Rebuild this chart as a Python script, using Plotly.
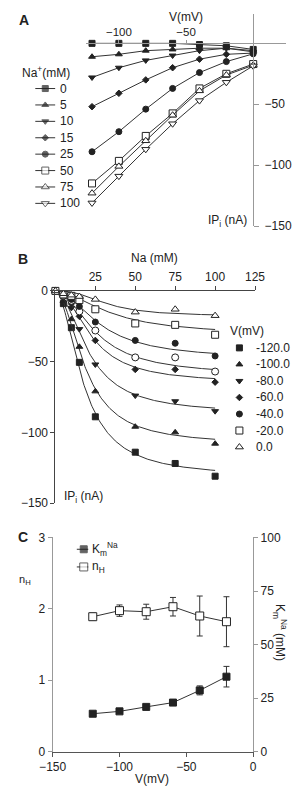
import numpy as np
import plotly.graph_objects as go

# ---------------- Panel A: pump current vs membrane voltage ----------------
voltages_a = [-120, -100, -80, -60, -40, -20, 0]
na_levels = ["0", "5", "10", "15", "25", "50", "75", "100"]
ip_na0 = [0, 0, 0, 0, -1, -2, -5]
ip_na5 = [-11, -9, -6, -5, -4, -4, -6]
ip_na10 = [-28, -20, -14, -10, -6, -4, -7]
ip_na15 = [-52, -41, -30, -20, -13, -9, -8]
ip_na25 = [-89, -72.5, -54, -37, -24, -15, -8.6]
ip_na50 = [-115, -96.5, -76, -57.5, -37, -25, -17]
ip_na75 = [-123, -101, -80, -59, -39, -26, -18]
ip_na100 = [-131, -109, -87, -66, -47, -32, -18.5]
series_a = [ip_na0, ip_na5, ip_na10, ip_na15, ip_na25, ip_na50, ip_na75, ip_na100]

# ---------------- Panel B: pump current vs external Na ----------------
na_b = [0, 5, 10, 15, 25, 50, 75, 100]
v_levels_b = ["-120.0", "-100.0", "-80.0", "-60.0", "-50.0", "-40.0", "-20.0", "0.0"]
legend_levels_b = ["-120.0", "-100.0", "-80.0", "-60.0", "-40.0", "-20.0", "0.0"]
ip_m120 = [0, -9, -26, -50.5, -89, -114, -122, -131]
ip_m100 = [0, -7, -20, -39.5, -71, -96, -100, -108]
ip_m80 = [0, -5, -12, -27, -52, -74, -78, -85]
ip_m60 = [0, -4, -9, -18, -35, -55.5, -55.5, -64.5]
ip_m50 = [0, -3.5, -7, -14.5, -28, -47, -47, -57]
ip_m40 = [0, -3, -6, -11, -22, -35, -37, -46]
ip_m20 = [0, -2.5, -3.5, -6.5, -13, -23, -24, -31]
ip_0 = [0, -2, -3, -4, -6, -15, -13, -17.5]
series_b = [ip_m120, ip_m100, ip_m80, ip_m60, ip_m50, ip_m40, ip_m20, ip_0]
# Hill fit parameters (Imax, K, n) for the fitted curves
fit_imax = [-131.7, -108.8, -86.7, -65.1, -59.9, -48.3, -31.3, -17.8]
fit_k = [17.7, 18.8, 20.9, 22.9, 26.0, 28.6, 35.0, 32.0]
fit_n = [1.89, 1.97, 1.96, 2.03, 1.90, 1.90, 1.82, 2.60]

# ---------------- Panel C: Km and nH vs voltage ----------------
v_c = [-120, -100, -80, -60, -40, -20]
km = [17.7, 18.8, 20.9, 22.9, 28.6, 35.0]
km_err = [0.6, 0.6, 0.5, 0.6, 2.1, 4.8]
nh = [1.89, 1.975, 1.96, 2.03, 1.90, 1.82]
nh_err = [0.05, 0.08, 0.105, 0.13, 0.28, 0.35]
legend_c = ["K<sub>m</sub><sup>Na</sup>", "n<sub>H</sub>"]

W, H = 300, 794


def fx(px):
    return px / W


def fy(py):
    return 1 - py / H


FONT = "Liberation Sans, Arial, sans-serif"
DARK = "#222222"
LINE = "#333333"

fig = go.Figure()
annotations = []

# ---------- styles ----------
sym_a = ["square", "triangle-up", "triangle-down", "diamond", "circle",
         "square", "triangle-up", "triangle-down"]
fill_a = [DARK] * 5 + ["white"] * 3
size_a = [6, 6, 6, 5, 6, 7, 7, 7]

sym_b = {"-120.0": "square", "-100.0": "triangle-up", "-80.0": "triangle-down",
         "-60.0": "diamond", "-50.0": "circle", "-40.0": "circle",
         "-20.0": "square", "0.0": "triangle-up"}
fill_b = {"-120.0": DARK, "-100.0": DARK, "-80.0": DARK, "-60.0": DARK,
          "-50.0": "white", "-40.0": DARK, "-20.0": "white", "0.0": "white"}
size_b = {"-120.0": 6, "-100.0": 6, "-80.0": 6, "-60.0": 5, "-50.0": 7,
          "-40.0": 6, "-20.0": 7, "0.0": 7}

# ---------- Panel A data ----------
for name, ys, sym, fill, sz in zip(na_levels, series_a, sym_a, fill_a, size_a):
    fig.add_trace(go.Scatter(
        x=voltages_a, y=ys, name=name + " mM", mode="lines+markers",
        line=dict(color=LINE, width=1),
        marker=dict(symbol=sym, color=fill, size=sz, line=dict(color=DARK, width=1)),
        xaxis="x", yaxis="y", showlegend=False, cliponaxis=False))

# Panel A legend (drawn on its own hidden axes: one row per Na level)
for i, (name, sym, fill, sz) in enumerate(zip(na_levels, sym_a, fill_a, size_a)):
    fig.add_trace(go.Scatter(
        x=[-1, 0, 1], y=[i, i, i], mode="lines+markers", showlegend=False,
        hoverinfo="skip", line=dict(color=LINE, width=1),
        marker=dict(symbol=sym, color=fill, size=[0, sz, 0],
                    line=dict(color=DARK, width=[0, 1, 0])),
        xaxis="x4", yaxis="y5", cliponaxis=False))
    annotations.append(dict(text=name, xref="x4", yref="y5", x=1, y=i,
                            xanchor="left", yanchor="middle", xshift=3,
                            showarrow=False, font=dict(size=12)))

# ---------- Panel B data + Hill fits ----------
curve_x = np.linspace(0, 100, 201)
for name, ys, imax, k, n in zip(v_levels_b, series_b, fit_imax, fit_k, fit_n):
    fig.add_trace(go.Scatter(
        x=curve_x, y=imax * curve_x ** n / (k ** n + curve_x ** n),
        mode="lines", line=dict(color=LINE, width=1), showlegend=False,
        hoverinfo="skip", xaxis="x2", yaxis="y2"))
    fig.add_trace(go.Scatter(
        x=na_b, y=ys, name=name + " mV", mode="markers",
        marker=dict(symbol=sym_b[name], color=fill_b[name], size=size_b[name],
                    line=dict(color=DARK, width=1)),
        xaxis="x2", yaxis="y2", showlegend=False, cliponaxis=False))

# Panel B legend
for i, name in enumerate(legend_levels_b):
    fig.add_trace(go.Scatter(
        x=[0], y=[i], mode="markers", showlegend=False, hoverinfo="skip",
        marker=dict(symbol=sym_b[name], color=fill_b[name], size=size_b[name],
                    line=dict(color=DARK, width=1)),
        xaxis="x5", yaxis="y6", cliponaxis=False))
    annotations.append(dict(text=name, xref="x5", yref="y6", x=1, y=i,
                            xanchor="left", yanchor="middle", xshift=10,
                            showarrow=False, font=dict(size=12)))

# ---------- Panel C ----------
fig.add_trace(go.Scatter(
    x=v_c, y=km, name="Km", mode="lines+markers",
    line=dict(color=LINE, width=1),
    marker=dict(symbol="square", color=DARK, size=7, line=dict(color=DARK, width=1)),
    error_y=dict(type="data", array=km_err, color=LINE, thickness=1, width=3),
    xaxis="x3", yaxis="y4", showlegend=False))
fig.add_trace(go.Scatter(
    x=v_c, y=nh, name="nH", mode="lines+markers",
    line=dict(color=LINE, width=1),
    marker=dict(symbol="square", color="white", size=8, line=dict(color=DARK, width=1)),
    error_y=dict(type="data", array=nh_err, color=LINE, thickness=1, width=3),
    xaxis="x3", yaxis="y3", showlegend=False))

# Panel C legend
for i, (name, fill, sz) in enumerate(zip(legend_c, [DARK, "white"], [7, 8])):
    fig.add_trace(go.Scatter(
        x=[-1, 0.2, 1], y=[i, i, i], mode="lines+markers", showlegend=False,
        hoverinfo="skip", line=dict(color=LINE, width=1),
        marker=dict(symbol="square", color=fill, size=[0, sz, 0],
                    line=dict(color=DARK, width=[0, 1, 0])),
        xaxis="x6", yaxis="y7", cliponaxis=False))
    annotations.append(dict(text=name, xref="x6", yref="y7", x=1, y=i,
                            xanchor="left", yanchor="middle", xshift=1,
                            showarrow=False, font=dict(size=12)))

tick_font = dict(family=FONT, size=12, color=DARK)
common = dict(showgrid=False, zeroline=False, showline=True, linewidth=1,
              ticks="outside", ticklen=4, tickwidth=1, tickfont=tick_font)
hidden = dict(visible=False, fixedrange=True)

fig.update_layout(
    width=W, height=H, margin=dict(l=0, r=0, t=0, b=0),
    paper_bgcolor="white", plot_bgcolor="rgba(0,0,0,0)",
    font=dict(family=FONT, size=12, color=DARK),
    showlegend=False,
    xaxis=dict(domain=[fx(78), fx(296)], range=[-124.66, 24.66], anchor="free",
               position=fy(37), side="top", tickvals=[-100, -50],
               linecolor="#999999", tickcolor="#999999",
               **{**common, "tickfont": dict(family=FONT, size=11.5, color=DARK),
                  "ticklen": 3}),
    yaxis=dict(domain=[fy(223), fy(7)], range=[-150, 24.19], anchor="free",
               position=fx(260), side="right", tickvals=[-150, -100, -50],
               linecolor="#999999", tickcolor="#999999", ticklabelstandoff=3,
               **{**common, "ticklen": 5}),
    xaxis2=dict(domain=[fx(45), fx(262)], range=[0, 125], anchor="y2", side="top",
                tickvals=[25, 50, 75, 100, 125], linecolor="#444444",
                tickcolor="#444444", **common),
    yaxis2=dict(domain=[fy(505), fy(289)], range=[-150, 0], anchor="x2", side="left",
                tickvals=[-150, -100, -50, 0], linecolor="#444444",
                tickcolor="#444444", **common),
    xaxis3=dict(domain=[fx(42), fx(260)], range=[-150, 0], anchor="y3",
                tickvals=[-150, -100, -50, 0], linecolor="#555555",
                tickcolor="#555555", **common),
    yaxis3=dict(domain=[fy(758), fy(540)], range=[0, 3], anchor="x3",
                tickvals=[0, 1, 2, 3], linecolor="#999999", tickcolor="#999999",
                **common),
    yaxis4=dict(range=[0, 100], overlaying="y3", side="right", anchor="x3",
                tickvals=[0, 25, 50, 75, 100], linecolor="#999999",
                tickcolor="#999999", **common),
    # hidden axes holding the hand-laid legends
    xaxis4=dict(domain=[fx(23), fx(45)], range=[-1, 1], anchor="y5", **hidden),
    yaxis5=dict(domain=[fy(83 + 7 * 16.7 + 8.35), fy(83 - 8.35)],
                range=[7.5, -0.5], anchor="x4", **hidden),
    xaxis5=dict(domain=[fx(240), fx(250)], range=[-1, 1], anchor="y6", **hidden),
    yaxis6=dict(domain=[fy(347 + 6 * 16.83 + 8.4), fy(347 - 8.4)],
                range=[6.5, -0.5], anchor="x5", **hidden),
    xaxis6=dict(domain=[fx(68), fx(81)], range=[-1, 1], anchor="y7", **hidden),
    yaxis7=dict(domain=[fy(570 + 9), fy(552 - 9)], range=[1.5, -0.5],
                anchor="x6", **hidden),
)

annotations += [
    dict(text="<b>A</b>", x=fx(3), y=fy(13), xanchor="left", font=dict(size=14)),
    dict(text="V(mV)", x=fx(187), y=fy(10), font=dict(size=12)),
    dict(text="Na<sup>+</sup>(mM)", x=fx(6), y=fy(66), xanchor="left",
         font=dict(size=12)),
    dict(text="IP<sub>i</sub> (nA)", x=fx(232), y=fy(218), font=dict(size=12)),
    dict(text="<b>B</b>", x=fx(2), y=fy(257), xanchor="left", font=dict(size=14)),
    dict(text="Na (mM)", x=fx(153), y=fy(256), font=dict(size=12)),
    dict(text="V(mV)", x=fx(253), y=fy(330), font=dict(size=12)),
    dict(text="IP<sub>i</sub> (nA)", x=fx(75), y=fy(499), font=dict(size=12)),
    dict(text="<b>C</b>", x=fx(2), y=fy(540), xanchor="left", font=dict(size=14)),
    dict(text="n<sub>H</sub>", x=fx(12), y=fy(583), font=dict(size=11)),
    dict(text="K<sub>m</sub><sup>Na</sup> (mM)", x=fx(289), y=fy(637), textangle=90,
         font=dict(size=12)),
    dict(text="V(mV)", x=fx(150), y=fy(786), font=dict(size=12)),
]
for a in annotations:
    a.setdefault("xref", "paper")
    a.setdefault("yref", "paper")
    a["showarrow"] = False
    a.setdefault("xanchor", "center")
    a.setdefault("yanchor", "middle")
fig.update_layout(annotations=annotations)

fig.write_html("out.html")
